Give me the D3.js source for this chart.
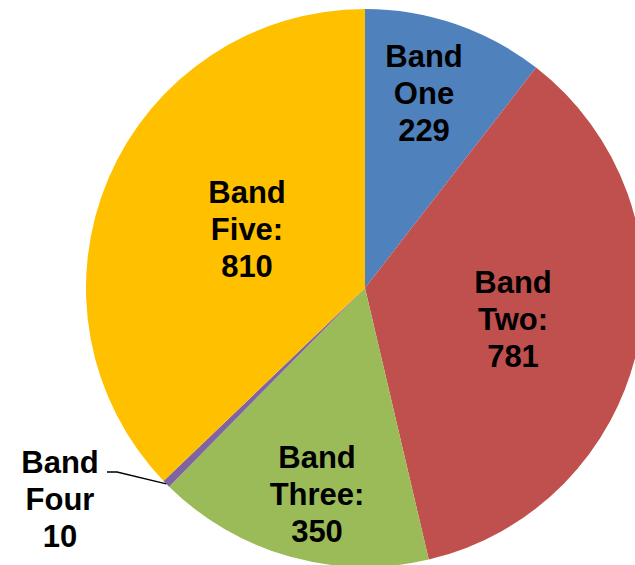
<!DOCTYPE html>
<html>
<head>
<meta charset="utf-8">
<script src="https://cdn.jsdelivr.net/npm/d3@7"></script>
<style>
  body { margin: 0; background: #fff; overflow: hidden; }
  text { font-family: "Liberation Sans", Arial, sans-serif; font-weight: bold; fill: #000; }
</style>
</head>
<body>
<div id="chart"></div>
<script>
// data
var bands = ["Band One", "Band Two", "Band Three", "Band Four", "Band Five"];
var counts = [229, 781, 350, 10, 810];
var labelLines = [["Band", "One", "229"], ["Band", "Two:", "781"], ["Band", "Three:", "350"],
                  ["Band", "Four", "10"], ["Band", "Five:", "810"]];
var colors = ["#4F81BD", "#C0504D", "#9BBB59", "#8064A2", "#FFC000"];

// SVG setup
var width = 635, height = 565;
var cx = 365, cy = 288, radius = 279;
var lineH = 37;

// label centres, relative to the pie centre (Excel "best fit" placement)
var labelPos = [[59, -195], [148, 31], [-48, 206], [-305, 211], [-118, -59]];

var svg = d3.select("#chart")
  .append("svg")
  .attr("width", width)
  .attr("height", height);

var g = svg.append("g")
  .attr("transform", "translate(" + cx + "," + cy + ")");

var data = bands.map(function(b, i) { return {name: b, value: counts[i], i: i}; });

var pie = d3.pie().value(function(d) { return d.value; }).sort(null);
var arc = d3.arc().innerRadius(0).outerRadius(radius);
var arcs = pie(data);

g.selectAll(".slice")
  .data(arcs)
  .join("path")
    .attr("class", "slice")
    .attr("d", arc)
    .style("fill", function(d) { return colors[d.data.i]; });

// leader line for the tiny slice
var small = arcs[3];
var mid = (small.startAngle + small.endAngle) / 2;
var edge = [radius * Math.sin(mid), -radius * Math.cos(mid)];
var lp = labelPos[3];
g.append("polyline")
  .attr("points", [[lp[0] + 47, lp[1] - 27], [lp[0] + 57, lp[1] - 27], edge].map(function(p) { return p.join(","); }).join(" "))
  .style("fill", "none")
  .style("stroke", "#000")
  .style("stroke-width", 1.5);

// labels
var labels = g.selectAll(".label")
  .data(arcs)
  .join("text")
    .attr("class", "label")
    .attr("text-anchor", "middle")
    .style("font-size", "31px")
    .attr("transform", function(d) { var p = labelPos[d.data.i]; return "translate(" + p[0] + "," + p[1] + ")"; });

labels.selectAll("tspan")
  .data(function(d) { return labelLines[d.data.i]; })
  .join("tspan")
    .attr("x", 0)
    .attr("y", function(t, j) { return (j - 1) * lineH; })
    .attr("dy", "0.35em")
    .text(function(t) { return t; });
</script>
</body>
</html>
